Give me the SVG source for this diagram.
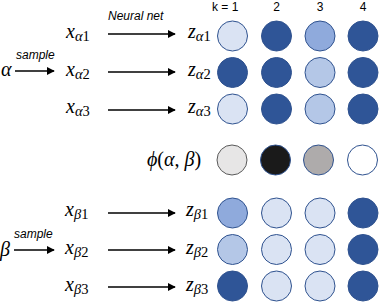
<svg xmlns="http://www.w3.org/2000/svg" width="380" height="302" viewBox="0 0 380 302">
<style>
.m{font-family:"Liberation Serif","DejaVu Serif",serif;font-size:20px;fill:#000}
.mi{font-style:italic}
.sub{font-size:14.5px}
.lbl{font-family:"Liberation Sans",Arial,sans-serif;font-size:12px;font-style:italic;fill:#000}
.hdr{font-family:"Liberation Sans",Arial,sans-serif;font-size:12px;fill:#000}
.ar{stroke:#000;stroke-width:1.6;fill:none;marker-end:url(#ah)}
circle{stroke:#2F528F;stroke-width:1}
.c0{fill:#DAE3F3}
.c1{fill:#2F5597}
.c2{fill:#8FAADC}
.c3{fill:#B4C7E7}
.p0{fill:#E7E6E6;stroke:#595959}
.p1{fill:#1A1A1A}
.p2{fill:#AEABAB}
.p3{fill:#FFFFFF}
</style>
<defs>
<marker id="ah" viewBox="0 0 10 10" refX="9" refY="5" markerWidth="5" markerHeight="5" markerUnits="strokeWidth" orient="auto">
<path d="M0,0 L10,5 L0,10 z" fill="#000"/>
</marker>
</defs>

<g id="connectors">
<line class="ar" x1="15" y1="71" x2="54" y2="71"/>
<line class="ar" x1="14" y1="250" x2="54" y2="250"/>
<line class="ar" x1="108" y1="34" x2="175" y2="34"/>
<line class="ar" x1="108" y1="72" x2="175" y2="72"/>
<line class="ar" x1="108" y1="110" x2="175" y2="110"/>
<line class="ar" x1="108" y1="213" x2="175" y2="213"/>
<line class="ar" x1="108" y1="250" x2="175" y2="250"/>
<line class="ar" x1="108" y1="287" x2="175" y2="287"/>
</g>

<g id="labels">
<text class="lbl" x="108" y="20">Neural net</text>
<text class="lbl" x="16" y="59">sample</text>
<text class="lbl" x="14" y="238">sample</text>
<text class="hdr" x="212" y="11">k = 1</text>
<text class="hdr" x="276.5" y="11" text-anchor="middle">2</text>
<text class="hdr" x="320" y="11" text-anchor="middle">3</text>
<text class="hdr" x="363" y="11" text-anchor="middle">4</text>
</g>

<g id="alpha"><text class="m mi" x="1" y="76">α</text></g>
<g id="beta"><text class="m mi" x="0" y="256">β</text></g>

<g id="x_a1"><text class="m" x="66" y="38"><tspan class="mi">x</tspan><tspan class="sub mi" dy="3">α</tspan><tspan class="sub">1</tspan></text></g>
<g id="x_a2"><text class="m" x="66" y="76"><tspan class="mi">x</tspan><tspan class="sub mi" dy="3">α</tspan><tspan class="sub">2</tspan></text></g>
<g id="x_a3"><text class="m" x="66" y="113"><tspan class="mi">x</tspan><tspan class="sub mi" dy="3">α</tspan><tspan class="sub">3</tspan></text></g>
<g id="x_b1"><text class="m" x="65" y="216"><tspan class="mi">x</tspan><tspan class="sub mi" dy="3">β</tspan><tspan class="sub">1</tspan></text></g>
<g id="x_b2"><text class="m" x="65" y="254"><tspan class="mi">x</tspan><tspan class="sub mi" dy="3">β</tspan><tspan class="sub">2</tspan></text></g>
<g id="x_b3"><text class="m" x="65" y="291"><tspan class="mi">x</tspan><tspan class="sub mi" dy="3">β</tspan><tspan class="sub">3</tspan></text></g>

<g id="z_a1"><text class="m" x="188" y="38"><tspan class="mi">z</tspan><tspan class="sub mi" dy="3">α</tspan><tspan class="sub">1</tspan></text></g>
<g id="z_a2"><text class="m" x="188" y="76"><tspan class="mi">z</tspan><tspan class="sub mi" dy="3">α</tspan><tspan class="sub">2</tspan></text></g>
<g id="z_a3"><text class="m" x="188" y="113"><tspan class="mi">z</tspan><tspan class="sub mi" dy="3">α</tspan><tspan class="sub">3</tspan></text></g>
<g id="z_b1"><text class="m" x="186" y="216"><tspan class="mi">z</tspan><tspan class="sub mi" dy="3">β</tspan><tspan class="sub">1</tspan></text></g>
<g id="z_b2"><text class="m" x="186" y="254"><tspan class="mi">z</tspan><tspan class="sub mi" dy="3">β</tspan><tspan class="sub">2</tspan></text></g>
<g id="z_b3"><text class="m" x="186" y="291"><tspan class="mi">z</tspan><tspan class="sub mi" dy="3">β</tspan><tspan class="sub">3</tspan></text></g>

<g id="phi"><text class="m" x="147" y="166" font-size="21"><tspan class="mi">ϕ</tspan>(<tspan class="mi">α</tspan>, <tspan class="mi">β</tspan>)</text></g>

<g id="row_a1">
<circle class="c0" cx="232.5" cy="36" r="15"/>
<circle class="c1" cx="276.5" cy="36" r="15"/>
<circle class="c2" cx="320" cy="36" r="15"/>
<circle class="c1" cx="363" cy="36" r="15"/>
</g>
<g id="row_a2">
<circle class="c1" cx="232.5" cy="72.5" r="15"/>
<circle class="c1" cx="276.5" cy="72.5" r="15"/>
<circle class="c3" cx="320" cy="72.5" r="15"/>
<circle class="c1" cx="363" cy="72.5" r="15"/>
</g>
<g id="row_a3">
<circle class="c0" cx="232.5" cy="109" r="15"/>
<circle class="c1" cx="276.5" cy="109" r="15"/>
<circle class="c3" cx="320" cy="109" r="15"/>
<circle class="c1" cx="363" cy="109" r="15"/>
</g>
<g id="row_phi">
<circle class="p0" cx="232" cy="160" r="15"/>
<circle class="p1" cx="275.5" cy="160" r="15"/>
<circle class="p2" cx="318.5" cy="160" r="15"/>
<circle class="p3" cx="362.5" cy="160" r="15"/>
</g>
<g id="row_b1">
<circle class="c2" cx="232.5" cy="213" r="15"/>
<circle class="c0" cx="276.5" cy="213" r="15"/>
<circle class="c0" cx="320" cy="213" r="15"/>
<circle class="c1" cx="363" cy="213" r="15"/>
</g>
<g id="row_b2">
<circle class="c3" cx="232.5" cy="249.5" r="15"/>
<circle class="c0" cx="276.5" cy="249.5" r="15"/>
<circle class="c0" cx="320" cy="249.5" r="15"/>
<circle class="c1" cx="363" cy="249.5" r="15"/>
</g>
<g id="row_b3">
<circle class="c1" cx="232.5" cy="286" r="15"/>
<circle class="c0" cx="276.5" cy="286" r="15"/>
<circle class="c0" cx="320" cy="286" r="15"/>
<circle class="c1" cx="363" cy="286" r="15"/>
</g>
</svg>
